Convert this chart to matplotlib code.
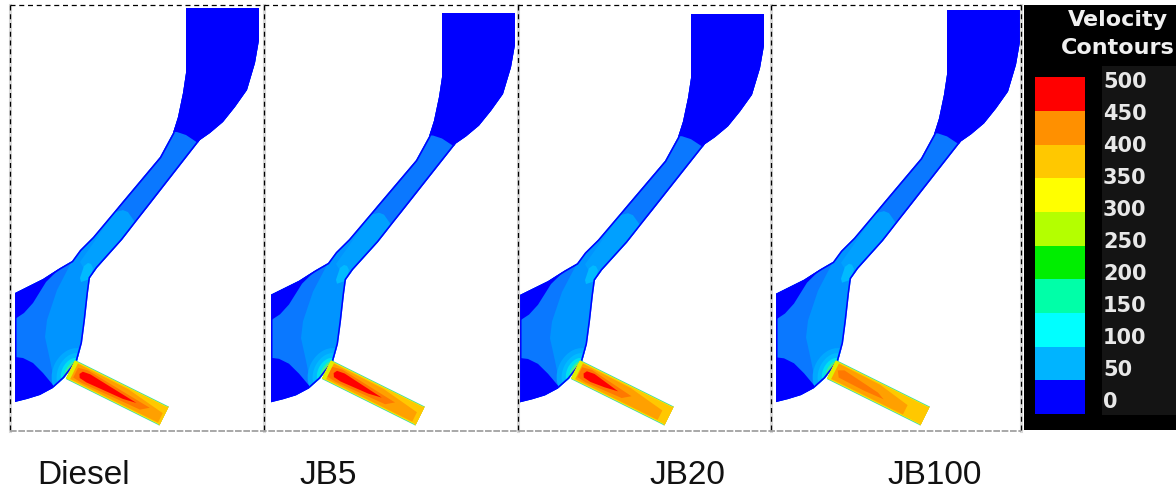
import numpy as np
import matplotlib
matplotlib.use('Agg')
import matplotlib.pyplot as plt
from matplotlib.patches import Polygon, Ellipse, Rectangle

plt.rcParams['font.family'] = ['Liberation Sans', 'DejaVu Sans']

# fuels and where each panel sits in the picture
fuels = ['Diesel', 'JB5', 'JB20', 'JB100']
shift_x = [0, 256, 505, 761]
top_y = [8, 13, 14, 10]
label_x = [37, 299, 649, 887]

# length of the hot core in each nozzle
red_start = [10, 8, 9, 0]
red_end = [74, 62, 48, 0]
orange_end = [102, 100, 96, 84]

# colour bar
levels = [500, 450, 400, 350, 300, 250, 200, 150, 100, 50, 0]
band_colors = ['#ff0000', '#ff9000', '#ffc800', '#ffff00', '#b4ff00',
               '#00ee00', '#00ffa8', '#00ffff', '#00b4ff', '#0000ff']

# outline of the channel, px of the Diesel panel
outline_x = [15, 43, 60, 72, 80, 93, 160, 173, 178, 183, 186, 186, 259, 259, 255, 247, 235, 223, 210, 200,
             122, 97, 90, 88, 85, 82, 77, 64, 53, 40, 27, 15]
outline_y = [293, 279, 268, 261, 250, 237, 157, 133, 117, 93, 73, 8, 8, 40, 63, 90, 107, 122, 133, 140,
             240, 268, 278, 293, 320, 343, 361, 378, 388, 395, 399, 402]

# flow zones inside the channel
zone_mid_x = [15, 72, 57, 47, 45, 50, 55, 15]
zone_mid_y = [293, 261, 290, 320, 337, 360, 385, 402]
wedge_x = [15, 43, 60, 46, 33, 24, 15]
wedge_y = [293, 279, 268, 282, 303, 313, 319]
low_x = [15, 23, 33, 43, 53, 53, 40, 27, 15]
low_y = [357, 358, 363, 373, 385, 388, 395, 399, 402]
tube_x = [170, 205, 135, 128, 123, 115]
tube_y = [125, 145, 222, 212, 210, 212]
tube_low_x = [115, 123, 128, 135, 97, 80]
tube_low_y = [212, 210, 212, 222, 290, 262]
spot_x = [84, 88, 91, 93, 90, 81, 80]
spot_y = [266, 263, 264, 268, 279, 282, 278]
top_x = [150, 280, 280, 201, 195, 186, 177, 150]
top_y_pts = [0, 0, 145, 145, 141, 135, 132, 132]

BLUE = '#0000ff'
ZONE1 = '#0a78ff'
ZONE2 = '#0094ff'
ZONE3 = '#00baff'


def along(u, v):
    # nozzle coordinates to picture px
    start = np.array([70.5, 369.5])
    end = np.array([164.0, 416.0])
    d = (end - start) / np.linalg.norm(end - start)
    n = np.array([-d[1], d[0]])
    return start + np.outer(u, d) + np.outer(v, n)


fig = plt.figure(figsize=(11.76, 4.91), dpi=100)
ax = fig.add_axes([0, 0, 1, 1])
ax.set_xlim(0, 1176)
ax.set_ylim(491, 0)
ax.axis('off')

for i, fuel in enumerate(fuels):
    s = (425 - top_y[i]) / (425 - 8)

    def pts(x, y):
        x = np.array(x, dtype=float) + shift_x[i]
        y = 425 - (425 - np.array(y, dtype=float)) * s
        return np.column_stack([x, y])

    shape = Polygon(pts(outline_x, outline_y), fc=ZONE2, ec='none', zorder=2)
    ax.add_patch(shape)

    for xs, ys, c in [(zone_mid_x, zone_mid_y, ZONE1), (wedge_x, wedge_y, BLUE), (low_x, low_y, BLUE),
                      (tube_low_x, tube_low_y, '#00a0ff'), (tube_x, tube_y, ZONE1), (spot_x, spot_y, ZONE3),
                      (top_x, top_y_pts, BLUE)]:
        p = Polygon(pts(xs, ys), fc=c, ec='none', zorder=3)
        ax.add_patch(p)
        p.set_clip_path(shape)

    # glow around the nozzle inlet
    for w, h, c in [(38, 50, '#00a8ff'), (28, 40, ZONE3), (20, 30, '#00e0f0'), (13, 24, '#30f0a0'), (8, 22, '#c8f020')]:
        e = Ellipse((shift_x[i] + 72, 372), w, h, angle=27, fc=c, ec='none', zorder=4)
        ax.add_patch(e)
        e.set_clip_path(shape)

    # blue rim of the channel
    rim = Polygon(pts(outline_x, outline_y), fc='none', ec=BLUE, lw=2.2, zorder=5)
    ax.add_patch(rim)
    rim.set_clip_path(shape)

    # nozzle body, layered across its width
    L = 104.5
    shift = np.array([shift_x[i], 0])
    for half, c in [(10.6, '#30d8b0'), (9.9, '#f0ec10'), (9.2, '#ffc800')]:
        box = along([0, L, L, 0], [-half, -half, half, half]) + shift
        ax.add_patch(Polygon(box, fc=c, ec='none', zorder=6))
    ax.add_patch(Polygon(along([L - 1, L, L, L - 1], [-10.6, -10.6, 10.6, 10.6]) + shift, fc='#ffc800', ec='none', zorder=7))
    ax.add_patch(Polygon(along([0, 4, 4, 0], [-10, -10, 10, 10]) + shift, fc='#e0f000', ec='none', zorder=7))

    oe = orange_end[i]
    ax.add_patch(Polygon(along([4, oe * 0.6, oe, oe, 4], [-8.5, -8, -2, 8.5, 8.5]) + shift,
                         fc='#ffa000', ec='none', zorder=8))
    if red_end[i] > 0:
        a, b = red_start[i], red_end[i]
        ax.add_patch(Polygon(along([a - 4, a + 6, b + 14, b + 6, a + 6, a - 4], [-5, -7, -1, 5, 7, 6]) + shift,
                             fc='#ff7800', ec='none', zorder=9))
        ax.add_patch(Polygon(along([a, a + 2, a + 10, b, b - 14, a + 10, a + 2], [0, -3.5, -4.5, 0.6, 3, 4.5, 3.5]) + shift,
                             fc='#ff0000', ec='none', zorder=10))
    else:
        ax.add_patch(Polygon(along([6, 12, 52, 60, 38, 10], [-2, -5, 0, 3.5, 4.5, 4]) + shift,
                             fc='#ff7800', ec='none', zorder=9))

    ax.text(label_x[i], 484, fuel, fontsize=24, color='#111111', ha='left', va='baseline', zorder=10)

# dashed panel frames
frame_x = [10, 264, 518, 771, 1021]
for x in frame_x:
    ax.plot([x, x], [5, 431], color='#d8d8d8', lw=2.2, zorder=11)
    ax.plot([x, x], [5, 431], color='black', lw=0.9, ls=(0, (4, 3)), zorder=12)
ax.plot([10, 1021], [5, 5], color='black', lw=0.9, ls=(0, (4, 3)), zorder=12)
ax.plot([10, 1021], [431, 431], color='#9a9a9a', lw=1.2, ls=(0, (4, 1)), zorder=12)

# legend block
ax.add_patch(Rectangle((1024, 5), 152, 425, fc='black', ec='none', zorder=1))
ax.add_patch(Rectangle((1102, 66), 74, 349, fc='#141414', ec='none', zorder=2))
band_h = 33.65
for k, c in enumerate(band_colors):
    # a little overlap so no dark seam shows between bands
    extra = 1 if k < len(band_colors) - 1 else 0
    ax.add_patch(Rectangle((1035, 77.3 + k * band_h), 50, band_h + extra, fc=c, ec='none', lw=0, zorder=3 + k * 0.01))
for k, lev in enumerate(levels):
    ax.text(1103, 82 + k * 32, str(lev), color='#e8e8e8', fontsize=15, fontweight='bold', family='DejaVu Sans',
            ha='left', va='center', zorder=4)
ax.text(1118, 20, 'Velocity', color='#f0f0f0', fontsize=16, fontweight='bold', family='DejaVu Sans',
        ha='center', va='center', zorder=4)
ax.text(1118, 48, 'Contours', color='#f0f0f0', fontsize=16, fontweight='bold', family='DejaVu Sans',
        ha='center', va='center', zorder=4)

fig.savefig('out.png', dpi=100)
